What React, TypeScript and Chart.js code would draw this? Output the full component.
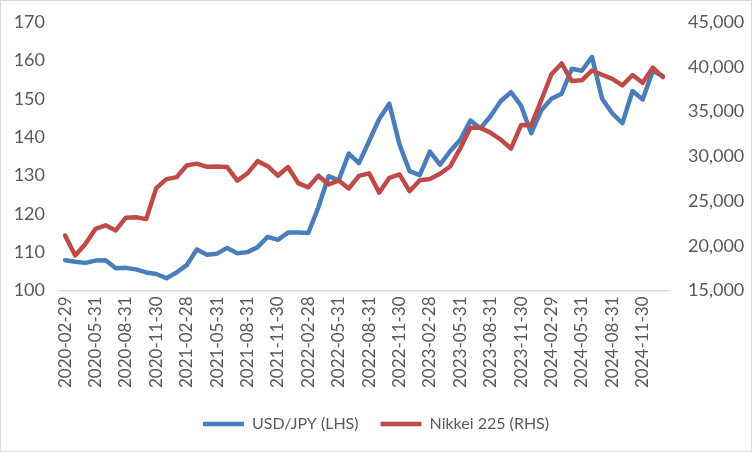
import React, { useEffect, useRef } from "react";
import { Chart, registerables } from "chart.js";

Chart.register(...registerables);

const dates: string[] = [
  "2020-02-29", "2020-03-31", "2020-04-30", "2020-05-31", "2020-06-30", "2020-07-31",
  "2020-08-31", "2020-09-30", "2020-10-31", "2020-11-30", "2020-12-31", "2021-01-31",
  "2021-02-28", "2021-03-31", "2021-04-30", "2021-05-31", "2021-06-30", "2021-07-31",
  "2021-08-31", "2021-09-30", "2021-10-31", "2021-11-30", "2021-12-31", "2022-01-31",
  "2022-02-28", "2022-03-31", "2022-04-30", "2022-05-31", "2022-06-30", "2022-07-31",
  "2022-08-31", "2022-09-30", "2022-10-31", "2022-11-30", "2022-12-31", "2023-01-31",
  "2023-02-28", "2023-03-31", "2023-04-30", "2023-05-31", "2023-06-30", "2023-07-31",
  "2023-08-31", "2023-09-30", "2023-10-31", "2023-11-30", "2023-12-31", "2024-01-31",
  "2024-02-29", "2024-03-31", "2024-04-30", "2024-05-31", "2024-06-30", "2024-07-31",
  "2024-08-31", "2024-09-30", "2024-10-31", "2024-11-30", "2024-12-31", "2025-01-31",
];

const usdJpy: number[] = [
  107.9, 107.5, 107.2, 107.8, 107.9, 105.8,
  105.9, 105.5, 104.7, 104.3, 103.2, 104.7,
  106.6, 110.7, 109.3, 109.6, 111.1, 109.7,
  110.0, 111.3, 114.0, 113.2, 115.1, 115.1,
  115.0, 121.7, 129.8, 128.7, 135.7, 133.2,
  138.9, 144.7, 148.7, 138.1, 131.1, 130.1,
  136.2, 132.8, 136.3, 139.3, 144.3, 142.3,
  145.5, 149.4, 151.7, 148.2, 141.0, 147.0,
  150.0, 151.3, 157.8, 157.3, 160.9, 150.0,
  146.2, 143.6, 152.0, 149.8, 157.2, 155.9,
];

const nikkei: number[] = [
  21143, 18917, 20194, 21878, 22288, 21710,
  23140, 23185, 22977, 26434, 27444, 27663,
  28966, 29179, 28813, 28860, 28792, 27284,
  28090, 29453, 28893, 27822, 28792, 27002,
  26527, 27821, 26848, 27280, 26393, 27802,
  28092, 25937, 27587, 27969, 26095, 27327,
  27446, 28041, 28856, 30888, 33189, 33172,
  32619, 31858, 30859, 33487, 33464, 36287,
  39166, 40369, 38406, 38488, 39583, 39102,
  38648, 37920, 39081, 38208, 39895, 38850,
];

const seriesNames: string[] = ["USD/JPY (LHS)", "Nikkei 225 (RHS)"];
const leftTicks: number[] = [100, 110, 120, 130, 140, 150, 160, 170];
const rightTicks: number[] = [15000, 20000, 25000, 30000, 35000, 40000, 45000];

const BLUE = "#4A7EBB";
const RED = "#BE4B48";
const TEXT = "#595959";
const FONT = "Lato, 'Open Sans', sans-serif";

export default function App() {
  const ref = useRef<HTMLCanvasElement | null>(null);

  useEffect(() => {
    document.body.style.margin = "0";
    const canvas = ref.current;
    if (!canvas) return;
    const chart = new Chart(canvas, {
      type: "line",
      data: {
        labels: dates,
        datasets: [
          {
            label: seriesNames[0],
            data: usdJpy,
            yAxisID: "y",
            borderColor: BLUE,
            backgroundColor: BLUE,
            borderWidth: 4.5,
            pointRadius: 0,
            tension: 0,
            borderJoinStyle: "round",
            borderCapStyle: "round",
            order: 1,
          },
          {
            label: seriesNames[1],
            data: nikkei,
            yAxisID: "y1",
            borderColor: RED,
            backgroundColor: RED,
            borderWidth: 4.5,
            pointRadius: 0,
            tension: 0,
            borderJoinStyle: "round",
            borderCapStyle: "round",
            order: 0,
          },
        ],
      },
      options: {
        responsive: false,
        animation: false,
        layout: { padding: { left: 0, right: 0, top: 21, bottom: 9 } },
        plugins: {
          tooltip: { enabled: false },
          legend: {
            position: "bottom",
            labels: {
              usePointStyle: true,
              pointStyle: "line",
              pointStyleWidth: 41,
              color: TEXT,
              font: { family: FONT, size: 16 },
              padding: 22,
              sort: (a: any, b: any) => a.datasetIndex - b.datasetIndex,
            },
          },
        },
        scales: {
          x: {
            offset: true,
            grid: { display: false, drawTicks: false },
            border: { display: true, color: "#D9D9D9", width: 1.5 },
            afterFit: (axis: any) => {
              axis.paddingLeft = 0;
              axis.paddingRight = 0;
            },
            ticks: {
              autoSkip: false,
              minRotation: 90,
              maxRotation: 90,
              padding: 6,
              color: TEXT,
              font: { family: FONT, size: 17 },
              callback: (_v: any, i: number) => (i % 3 === 0 ? dates[i] : null),
            },
          },
          y: {
            position: "left",
            min: leftTicks[0],
            max: leftTicks[leftTicks.length - 1],
            grid: { display: false, drawTicks: false },
            border: { display: false },
            afterBuildTicks: (axis: any) => {
              axis.ticks = leftTicks.map((v) => ({ value: v }));
            },
            afterFit: (axis: any) => {
              axis.width = 59;
              axis.paddingTop = 0;
              axis.paddingBottom = 0;
            },
            ticks: {
              padding: 15,
              color: TEXT,
              font: { family: FONT, size: 18 },
            },
          },
          y1: {
            position: "right",
            min: rightTicks[0],
            max: rightTicks[rightTicks.length - 1],
            grid: { display: false, drawTicks: false },
            border: { display: false },
            afterBuildTicks: (axis: any) => {
              axis.ticks = rightTicks.map((v) => ({ value: v }));
            },
            afterFit: (axis: any) => {
              axis.width = 83;
              axis.paddingTop = 0;
              axis.paddingBottom = 0;
            },
            ticks: {
              padding: 20,
              color: TEXT,
              font: { family: FONT, size: 18 },
              callback: (v: any) => Number(v).toLocaleString("en-US"),
            },
          },
        },
      },
    });
    return () => chart.destroy();
  }, []);

  return (
    <div
      style={{
        width: 752,
        height: 452,
        boxSizing: "border-box",
        border: "1px solid #D9D9D9",
        background: "#fff",
      }}
    >
      <canvas ref={ref} width={750} height={450} style={{ display: "block" }} />
    </div>
  );
}
